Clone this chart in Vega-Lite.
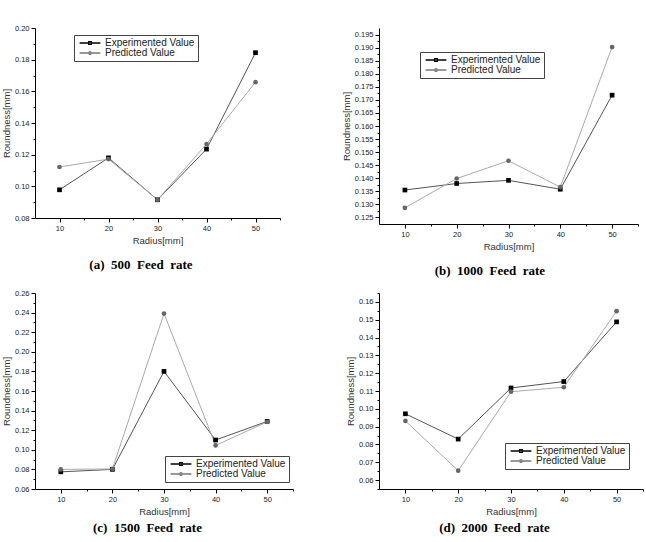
{
 "$schema": "https://vega.github.io/schema/vega-lite/v6.json",
 "background": "white",
 "padding": {"left": 1, "top": 24, "right": 0, "bottom": 0},
 "config": {
  "view": {"stroke": null},
  "font": "Liberation Sans",
  "axis": {"grid": false, "domainColor": "#000", "tickColor": "#000", "labelColor": "#222", "titleColor": "#333", "labelFont": "Liberation Sans", "labelFontSize": 7.5, "titleFont": "Liberation Sans", "titleFontSize": 9.5, "titleFontWeight": "normal", "tickSize": 4, "labelPadding": 2, "domainWidth": 1, "tickWidth": 1},
  "axisY": {"titlePadding": 3},
  "axisX": {"titlePadding": 4},
  "legend": {"orient": "none", "fillColor": "white", "strokeColor": "#444", "padding": 3, "labelFont": "Liberation Sans", "labelFontSize": 10, "labelColor": "#222", "symbolSize": 64, "symbolOffset": 8, "labelOffset": 10, "rowPadding": 0, "symbolStrokeWidth": 1.5, "symbolOpacity": 1},
  "title": {"font": "Liberation Serif", "fontSize": 13, "fontWeight": "bold", "color": "#000", "orient": "bottom", "frame": "bounds", "anchor": "middle", "offset": 14}
 },
 "data": {"values": [
  {"panel": "a", "radius": 10, "series": "Experimented Value", "value": 0.0978},
  {"panel": "a", "radius": 20, "series": "Experimented Value", "value": 0.118},
  {"panel": "a", "radius": 30, "series": "Experimented Value", "value": 0.0915},
  {"panel": "a", "radius": 40, "series": "Experimented Value", "value": 0.1235},
  {"panel": "a", "radius": 50, "series": "Experimented Value", "value": 0.1844},
  {"panel": "a", "radius": 10, "series": "Predicted Value", "value": 0.1122},
  {"panel": "a", "radius": 20, "series": "Predicted Value", "value": 0.1172},
  {"panel": "a", "radius": 30, "series": "Predicted Value", "value": 0.0915},
  {"panel": "a", "radius": 40, "series": "Predicted Value", "value": 0.1267},
  {"panel": "a", "radius": 50, "series": "Predicted Value", "value": 0.1658},
  {"panel": "b", "radius": 10, "series": "Experimented Value", "value": 0.1355},
  {"panel": "b", "radius": 20, "series": "Experimented Value", "value": 0.138},
  {"panel": "b", "radius": 30, "series": "Experimented Value", "value": 0.1392},
  {"panel": "b", "radius": 40, "series": "Experimented Value", "value": 0.1358},
  {"panel": "b", "radius": 50, "series": "Experimented Value", "value": 0.1718},
  {"panel": "b", "radius": 10, "series": "Predicted Value", "value": 0.1287},
  {"panel": "b", "radius": 20, "series": "Predicted Value", "value": 0.1399},
  {"panel": "b", "radius": 30, "series": "Predicted Value", "value": 0.1467},
  {"panel": "b", "radius": 40, "series": "Predicted Value", "value": 0.1366},
  {"panel": "b", "radius": 50, "series": "Predicted Value", "value": 0.1902},
  {"panel": "c", "radius": 10, "series": "Experimented Value", "value": 0.0775},
  {"panel": "c", "radius": 20, "series": "Experimented Value", "value": 0.080},
  {"panel": "c", "radius": 30, "series": "Experimented Value", "value": 0.180},
  {"panel": "c", "radius": 40, "series": "Experimented Value", "value": 0.110},
  {"panel": "c", "radius": 50, "series": "Experimented Value", "value": 0.129},
  {"panel": "c", "radius": 10, "series": "Predicted Value", "value": 0.080},
  {"panel": "c", "radius": 20, "series": "Predicted Value", "value": 0.0805},
  {"panel": "c", "radius": 30, "series": "Predicted Value", "value": 0.239},
  {"panel": "c", "radius": 40, "series": "Predicted Value", "value": 0.1045},
  {"panel": "c", "radius": 50, "series": "Predicted Value", "value": 0.1285},
  {"panel": "d", "radius": 10, "series": "Experimented Value", "value": 0.0972},
  {"panel": "d", "radius": 20, "series": "Experimented Value", "value": 0.083},
  {"panel": "d", "radius": 30, "series": "Experimented Value", "value": 0.1117},
  {"panel": "d", "radius": 40, "series": "Experimented Value", "value": 0.1153},
  {"panel": "d", "radius": 50, "series": "Experimented Value", "value": 0.1488},
  {"panel": "d", "radius": 10, "series": "Predicted Value", "value": 0.0932},
  {"panel": "d", "radius": 20, "series": "Predicted Value", "value": 0.0653},
  {"panel": "d", "radius": 30, "series": "Predicted Value", "value": 0.1096},
  {"panel": "d", "radius": 40, "series": "Predicted Value", "value": 0.1121},
  {"panel": "d", "radius": 50, "series": "Predicted Value", "value": 0.1548}
 ]},
 "columns": 2,
 "spacing": {"row": 11, "column": 47},
 "resolve": {"legend": {"shape": "independent", "color": "independent"}},
 "concat": [
  {
   "width": 245, "height": 190,
   "title": {"text": "(a)\u00a0 500\u00a0 Feed\u00a0 rate"},
   "transform": [{"filter": "datum.panel === 'a'"}],
   "layer": [
    {"mark": {"type": "line", "strokeWidth": 1},
     "encoding": {
      "x": {"field": "radius", "type": "quantitative", "scale": {"domain": [5, 55], "nice": false, "zero": false}, "axis": {"values": [10, 20, 30, 40, 50], "title": "Radius[mm]"}},
      "y": {"field": "value", "type": "quantitative", "scale": {"domain": [0.08, 0.2], "nice": false, "zero": false}, "axis": {"values": [0.08, 0.10, 0.12, 0.14, 0.16, 0.18, 0.20], "format": ".2f", "title": "Roundness[mm]"}},
      "stroke": {"field": "series", "type": "nominal", "scale": {"domain": ["Experimented Value", "Predicted Value"], "range": ["#555", "#aaa"]}, "legend": null}
     }},
    {"transform": [{"filter": "datum.series === 'Experimented Value'"}],
     "mark": {"type": "point", "shape": "square", "filled": true, "opacity": 1, "strokeWidth": 0, "fill": "#000", "size": 22},
     "encoding": {
      "x": {"field": "radius", "type": "quantitative", "axis": {"values": [15, 25, 35, 45, 55], "labels": false, "title": null, "domain": false, "tickSize": 2, "orient": "bottom"}},
      "y": {"field": "value", "type": "quantitative", "axis": {"values": [0.09, 0.11, 0.13, 0.15, 0.17, 0.19], "labels": false, "title": null, "domain": false, "tickSize": 2, "orient": "left"}}
     }},
    {"transform": [{"filter": "datum.series === 'Predicted Value'"}],
     "mark": {"type": "point", "shape": "circle", "filled": true, "opacity": 1, "strokeWidth": 0, "fill": "#666", "size": 22},
     "encoding": {
      "x": {"field": "radius", "type": "quantitative", "axis": null},
      "y": {"field": "value", "type": "quantitative", "axis": null}
     }},
    {"transform": [{"filter": "false"}],
     "mark": {"type": "point", "filled": false, "strokeWidth": 1.5, "opacity": 1},
     "encoding": {
      "color": {"field": "series", "type": "nominal", "scale": {"domain": ["Experimented Value", "Predicted Value"], "range": ["#000", "#777"]}, "legend": {"title": null, "legendX": 39, "legendY": 7}},
      "shape": {"field": "series", "type": "nominal", "scale": {"domain": ["Experimented Value", "Predicted Value"], "range": ["M-2.6,0H-0.5M0.5,0H2.6M-0.3,-0.3H0.3V0.3H-0.3Z", "M-2.6,0H-0.5M0.5,0H2.6M-0.3,0A0.3,0.3 0 1,0 0.3,0A0.3,0.3 0 1,0 -0.3,0Z"]}, "legend": {"title": null, "legendX": 39, "legendY": 7}}
     }}
   ],
   "resolve": {"axis": {"x": "independent", "y": "independent"}}
  },
  {
   "width": 259, "height": 196,
   "title": {"text": "(b)\u00a0 1000\u00a0 Feed\u00a0 rate"},
   "transform": [{"filter": "datum.panel === 'b'"}],
   "layer": [
    {"mark": {"type": "line", "strokeWidth": 1},
     "encoding": {
      "x": {"field": "radius", "type": "quantitative", "scale": {"domain": [5, 55], "nice": false, "zero": false}, "axis": {"values": [10, 20, 30, 40, 50], "title": "Radius[mm]"}},
      "y": {"field": "value", "type": "quantitative", "scale": {"domain": [0.1225, 0.1975], "nice": false, "zero": false}, "axis": {"values": [0.125, 0.13, 0.135, 0.14, 0.145, 0.15, 0.155, 0.16, 0.165, 0.17, 0.175, 0.18, 0.185, 0.19, 0.195], "format": ".3f", "title": "Roundness[mm]"}},
      "stroke": {"field": "series", "type": "nominal", "scale": {"domain": ["Experimented Value", "Predicted Value"], "range": ["#555", "#aaa"]}, "legend": null}
     }},
    {"transform": [{"filter": "datum.series === 'Experimented Value'"}],
     "mark": {"type": "point", "shape": "square", "filled": true, "opacity": 1, "strokeWidth": 0, "fill": "#000", "size": 22},
     "encoding": {
      "x": {"field": "radius", "type": "quantitative", "axis": {"values": [15, 25, 35, 45, 55], "labels": false, "title": null, "domain": false, "tickSize": 2, "orient": "bottom"}},
      "y": {"field": "value", "type": "quantitative", "axis": {"values": [0.1275, 0.1325, 0.1375, 0.1425, 0.1475, 0.1525, 0.1575, 0.1625, 0.1675, 0.1725, 0.1775, 0.1825, 0.1875, 0.1925], "labels": false, "title": null, "domain": false, "tickSize": 2, "orient": "left"}}
     }},
    {"transform": [{"filter": "datum.series === 'Predicted Value'"}],
     "mark": {"type": "point", "shape": "circle", "filled": true, "opacity": 1, "strokeWidth": 0, "fill": "#666", "size": 22},
     "encoding": {
      "x": {"field": "radius", "type": "quantitative", "axis": null},
      "y": {"field": "value", "type": "quantitative", "axis": null}
     }},
    {"transform": [{"filter": "false"}],
     "mark": {"type": "point", "filled": false, "strokeWidth": 1.5, "opacity": 1},
     "encoding": {
      "color": {"field": "series", "type": "nominal", "scale": {"domain": ["Experimented Value", "Predicted Value"], "range": ["#000", "#777"]}, "legend": {"title": null, "legendX": 41, "legendY": 24}},
      "shape": {"field": "series", "type": "nominal", "scale": {"domain": ["Experimented Value", "Predicted Value"], "range": ["M-2.6,0H-0.5M0.5,0H2.6M-0.3,-0.3H0.3V0.3H-0.3Z", "M-2.6,0H-0.5M0.5,0H2.6M-0.3,0A0.3,0.3 0 1,0 0.3,0A0.3,0.3 0 1,0 -0.3,0Z"]}, "legend": {"title": null, "legendX": 41, "legendY": 24}}
     }}
   ],
   "resolve": {"axis": {"x": "independent", "y": "independent"}}
  },
  {
   "width": 258, "height": 196,
   "title": {"text": "(c)\u00a0 1500\u00a0 Feed\u00a0 rate", "offset": 6},
   "transform": [{"filter": "datum.panel === 'c'"}],
   "layer": [
    {"mark": {"type": "line", "strokeWidth": 1},
     "encoding": {
      "x": {"field": "radius", "type": "quantitative", "scale": {"domain": [5, 55], "nice": false, "zero": false}, "axis": {"values": [10, 20, 30, 40, 50], "title": "Radius[mm]"}},
      "y": {"field": "value", "type": "quantitative", "scale": {"domain": [0.06, 0.26], "nice": false, "zero": false}, "axis": {"values": [0.06, 0.08, 0.10, 0.12, 0.14, 0.16, 0.18, 0.20, 0.22, 0.24, 0.26], "format": ".2f", "title": "Roundness[mm]"}},
      "stroke": {"field": "series", "type": "nominal", "scale": {"domain": ["Experimented Value", "Predicted Value"], "range": ["#555", "#aaa"]}, "legend": null}
     }},
    {"transform": [{"filter": "datum.series === 'Experimented Value'"}],
     "mark": {"type": "point", "shape": "square", "filled": true, "opacity": 1, "strokeWidth": 0, "fill": "#000", "size": 22},
     "encoding": {
      "x": {"field": "radius", "type": "quantitative", "axis": {"values": [15, 25, 35, 45, 55], "labels": false, "title": null, "domain": false, "tickSize": 2, "orient": "bottom"}},
      "y": {"field": "value", "type": "quantitative", "axis": {"values": [0.07, 0.09, 0.11, 0.13, 0.15, 0.17, 0.19, 0.21, 0.23, 0.25], "labels": false, "title": null, "domain": false, "tickSize": 2, "orient": "left"}}
     }},
    {"transform": [{"filter": "datum.series === 'Predicted Value'"}],
     "mark": {"type": "point", "shape": "circle", "filled": true, "opacity": 1, "strokeWidth": 0, "fill": "#666", "size": 22},
     "encoding": {
      "x": {"field": "radius", "type": "quantitative", "axis": null},
      "y": {"field": "value", "type": "quantitative", "axis": null}
     }},
    {"transform": [{"filter": "false"}],
     "mark": {"type": "point", "filled": false, "strokeWidth": 1.5, "opacity": 1},
     "encoding": {
      "color": {"field": "series", "type": "nominal", "scale": {"domain": ["Experimented Value", "Predicted Value"], "range": ["#000", "#777"]}, "legend": {"title": null, "legendX": 130, "legendY": 163}},
      "shape": {"field": "series", "type": "nominal", "scale": {"domain": ["Experimented Value", "Predicted Value"], "range": ["M-2.6,0H-0.5M0.5,0H2.6M-0.3,-0.3H0.3V0.3H-0.3Z", "M-2.6,0H-0.5M0.5,0H2.6M-0.3,0A0.3,0.3 0 1,0 0.3,0A0.3,0.3 0 1,0 -0.3,0Z"]}, "legend": {"title": null, "legendX": 130, "legendY": 163}}
     }}
   ],
   "resolve": {"axis": {"x": "independent", "y": "independent"}}
  },
  {
   "width": 264, "height": 196,
   "title": {"text": "(d)\u00a0 2000\u00a0 Feed\u00a0 rate", "offset": 6},
   "transform": [{"filter": "datum.panel === 'd'"}],
   "layer": [
    {"mark": {"type": "line", "strokeWidth": 1},
     "encoding": {
      "x": {"field": "radius", "type": "quantitative", "scale": {"domain": [5, 55], "nice": false, "zero": false}, "axis": {"values": [10, 20, 30, 40, 50], "title": "Radius[mm]"}},
      "y": {"field": "value", "type": "quantitative", "scale": {"domain": [0.055, 0.165], "nice": false, "zero": false}, "axis": {"values": [0.06, 0.07, 0.08, 0.09, 0.10, 0.11, 0.12, 0.13, 0.14, 0.15, 0.16], "format": ".2f", "title": "Roundness[mm]"}},
      "stroke": {"field": "series", "type": "nominal", "scale": {"domain": ["Experimented Value", "Predicted Value"], "range": ["#555", "#aaa"]}, "legend": null}
     }},
    {"transform": [{"filter": "datum.series === 'Experimented Value'"}],
     "mark": {"type": "point", "shape": "square", "filled": true, "opacity": 1, "strokeWidth": 0, "fill": "#000", "size": 22},
     "encoding": {
      "x": {"field": "radius", "type": "quantitative", "axis": {"values": [15, 25, 35, 45, 55], "labels": false, "title": null, "domain": false, "tickSize": 2, "orient": "bottom"}},
      "y": {"field": "value", "type": "quantitative", "axis": {"values": [0.055, 0.065, 0.075, 0.085, 0.095, 0.105, 0.115, 0.125, 0.135, 0.145, 0.155, 0.165], "labels": false, "title": null, "domain": false, "tickSize": 2, "orient": "left"}}
     }},
    {"transform": [{"filter": "datum.series === 'Predicted Value'"}],
     "mark": {"type": "point", "shape": "circle", "filled": true, "opacity": 1, "strokeWidth": 0, "fill": "#666", "size": 22},
     "encoding": {
      "x": {"field": "radius", "type": "quantitative", "axis": null},
      "y": {"field": "value", "type": "quantitative", "axis": null}
     }},
    {"transform": [{"filter": "false"}],
     "mark": {"type": "point", "filled": false, "strokeWidth": 1.5, "opacity": 1},
     "encoding": {
      "color": {"field": "series", "type": "nominal", "scale": {"domain": ["Experimented Value", "Predicted Value"], "range": ["#000", "#777"]}, "legend": {"title": null, "legendX": 126, "legendY": 150}},
      "shape": {"field": "series", "type": "nominal", "scale": {"domain": ["Experimented Value", "Predicted Value"], "range": ["M-2.6,0H-0.5M0.5,0H2.6M-0.3,-0.3H0.3V0.3H-0.3Z", "M-2.6,0H-0.5M0.5,0H2.6M-0.3,0A0.3,0.3 0 1,0 0.3,0A0.3,0.3 0 1,0 -0.3,0Z"]}, "legend": {"title": null, "legendX": 126, "legendY": 150}}
     }}
   ],
   "resolve": {"axis": {"x": "independent", "y": "independent"}}
  }
 ]
}
